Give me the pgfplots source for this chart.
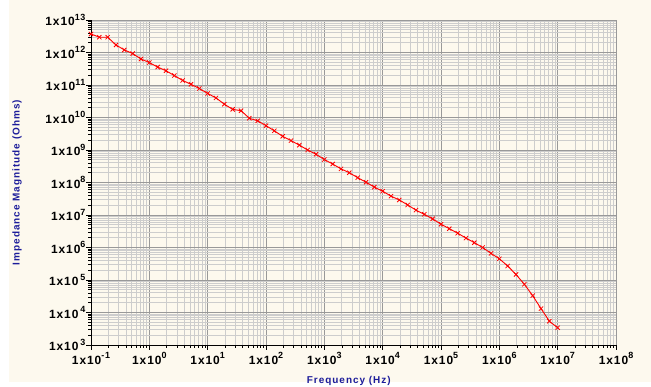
\documentclass[border=0pt]{standalone}
\usepackage{pgfplots}
\pgfplotsset{compat=1.18}
\usepackage{fontspec}
\setmainfont{Liberation Sans}
\newfontfamily\tickfont[LetterSpace=8]{Liberation Sans}
\newfontfamily\labfont[LetterSpace=10]{Liberation Sans}
\newcommand\ex[1]{\raisebox{0.85ex}{\fontsize{9}{9}\selectfont #1}}
\definecolor{bgc}{HTML}{FDF9EE}
\definecolor{majg}{HTML}{999999}
\definecolor{ming}{HTML}{CDCDCD}
\definecolor{lblue}{HTML}{1C1C9A}
\begin{document}
\begin{tikzpicture}[x=1bp,y=1bp]
\fill[white] (0,0) rectangle (651,386);
\fill[bgc] (9,4) rectangle (651,386);
\useasboundingbox (0,0) rectangle (651,386);
\begin{axis}[
  at={(91bp,41bp)}, anchor=south west,
  width=525bp, height=325bp, scale only axis,
  xmode=log, ymode=log,
  xmin=1e-1, xmax=1e8, ymin=1e3, ymax=1e13,
  axis background/.style={fill=bgc},
  grid=both,
  major grid style={majg, line width=0.9bp},
  minor grid style={ming, line width=0.9bp},
  axis x line=bottom, axis y line=left,
  axis line style={-, black, line width=0.9bp},
  tick align=outside,
  major tick length=5bp, minor tick length=3bp,
  tick style={black, line width=0.8bp},
  xtick={1e-1,1e0,1e1,1e2,1e3,1e4,1e5,1e6,1e7,1e8},
  xticklabels={1x10\ex{-1},1x10\ex{0},1x10\ex{1},1x10\ex{2},1x10\ex{3},1x10\ex{4},1x10\ex{5},1x10\ex{6},1x10\ex{7},1x10\ex{8}},
  ytick={1e3,1e4,1e5,1e6,1e7,1e8,1e9,1e10,1e11,1e12,1e13},
  yticklabels={1x10\,\ex{3},1x10\,\ex{4},1x10\,\ex{5},1x10\ex{6},1x10\ex{7},1x10\ex{8},1x10\ex{9},1x10\ex{10},1x10\ex{11},1x10\ex{12},1x10\ex{13}},
  ticklabel style={font=\tickfont\bfseries\fontsize{12}{13}\selectfont, black},
  yticklabel style={xshift=3bp},
  xticklabel style={yshift=1bp},
  xlabel={Frequency (Hz)},
  ylabel={Impedance Magnitude (Ohms)},
  label style={font=\labfont\bfseries\fontsize{10}{11}\selectfont, text=lblue},
  xlabel style={at={(axis description cs:0.491,-0.1185)}, anchor=base},
  ylabel style={at={(axis description cs:-0.141,0.5)}, anchor=center},
]
\addplot[red, line width=0.9bp, mark=x, mark size=3bp, mark options={line width=0.8bp}] coordinates {
(0.1,3.72e12) (0.13895,2.95e12) (0.19307,2.95e12) (0.26827,1.70e12) (0.37276,1.20e12)
(0.51795,9.3e11) (0.71969,6.3e11) (1,4.9e11) (1.3895,3.55e11) (1.9307,2.75e11)
(2.6827,1.95e11) (3.7276,1.38e11) (5.1795,1.05e11) (7.1969,7.8e10) (10,5.5e10)
(13.895,4.0e10) (19.307,2.57e10) (26.827,1.78e10) (37.276,1.62e10) (51.795,9.5e9)
(71.969,7.9e9) (100,5.6e9) (138.95,3.9e9) (193.07,2.63e9) (268.27,1.95e9)
(372.76,1.41e9) (517.95,1.0e9) (719.69,7.4e8) (1000,5.1e8) (1389.5,3.7e8)
(1930.7,2.63e8) (2682.7,2.0e8) (3727.6,1.41e8) (5179.5,1.02e8) (7196.9,7.2e7)
(10000,5.4e7) (13895,3.8e7) (19307,2.9e7) (26827,2.04e7) (37276,1.41e7)
(51795,1.05e7) (71969,7.6e6) (100000,5.2e6) (138950,3.8e6) (193070,2.75e6)
(268270,1.95e6) (372760,1.41e6) (517950,1.0e6) (719690,6.6e5) (1e6,4.5e5)
(1.3895e6,2.7e5) (1.9307e6,1.48e5) (2.6827e6,7.4e4) (3.7276e6,3.3e4) (5.1795e6,1.32e4)
(7.1969e6,5.4e3) (1e7,3.4e3)
};
\end{axis}
\end{tikzpicture}
\end{document}
